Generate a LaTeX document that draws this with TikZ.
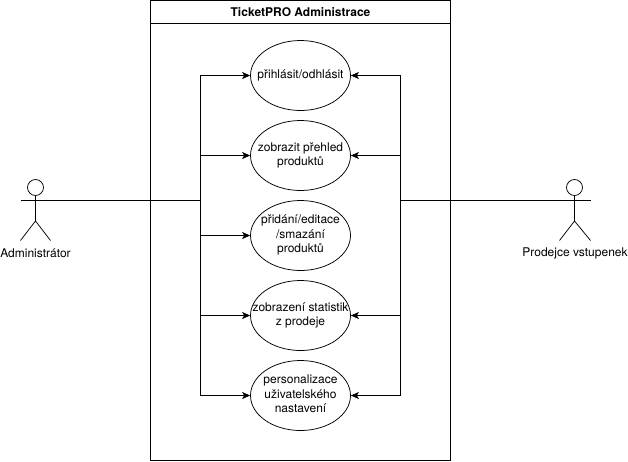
\documentclass[tikz,border=0pt]{standalone}
\usepackage{fontspec}
\setmainfont{TeX Gyre Heros}
\usetikzlibrary{shapes.geometric,arrows.meta}
\newcommand\uclabel[1]{\makebox[0pt]{\begin{tabular}{@{}c@{}}#1\end{tabular}}}
\tikzset{
  every node/.style={font=\fontsize{12}{14.4}\selectfont},
  usecase/.style={draw=black,fill=white,ellipse,minimum width=100pt,minimum height=70pt,inner sep=0pt,line width=0.75pt},
  framebox/.style={draw=black,line width=0.75pt},
  stick/.style={draw=black,line width=0.75pt},
  conn/.style={draw=black,line width=0.75pt,-{Stealth[length=8pt,width=7pt,inset=2pt]}},
  plain/.style={draw=black,line width=0.75pt},
  actorlabel/.style={inner sep=0pt,anchor=center},
  titlelabel/.style={inner sep=0pt,font=\fontsize{12}{14.4}\selectfont\bfseries},
}
\begin{document}
\begin{tikzpicture}[x=1pt,y=-1pt]
\useasboundingbox (0,0) rectangle (628,461);
% system frame
\draw[framebox] (150.5,0.5) rectangle (450.5,460.5);
\draw[framebox] (150.5,23.5) -- (450.5,23.5);
\node[titlelabel] (title) at (300.5,12) {TicketPRO Administrace};
% junction points
\coordinate (lspine) at (200.5,200.5);
\coordinate (rspine) at (400.5,200.5);
% use cases
\node[usecase] (e1) at (300.5,75.5) {\uclabel{přihlásit/odhlásit}};
\node[usecase] (e2) at (300.5,155.5) {\uclabel{zobrazit přehled\\produktů}};
\node[usecase] (e3) at (300.5,235.5) {\uclabel{přidání/editace\\/smazání\\produktů}};
\node[usecase] (e4) at (300.5,315.5) {\uclabel{zobrazení statistik\\z prodeje}};
\node[usecase] (e5) at (300.5,395.5) {\uclabel{personalizace\\uživatelského\\nastavení}};
% left actor
\node[draw=black,line width=0.75pt,circle,minimum size=16pt,inner sep=0pt] (ahead) at (35.5,187.5) {};
\coordinate (ahip) at (35.5,221);
\coordinate (aarml) at (20.5,200.5);
\coordinate (aarmr) at (50.5,200.5);
\coordinate (alegl) at (20.5,240.5);
\coordinate (alegr) at (50.5,240.5);
\draw[stick] (ahead.south) -- (ahip) (ahip) -- (alegl) (ahip) -- (alegr);
\draw[stick] (aarml) -- (aarmr);
\node[actorlabel] (alabel) at (35.5,253.5) {Administrátor};
% right actor
\node[draw=black,line width=0.75pt,circle,minimum size=16pt,inner sep=0pt] (bhead) at (574.5,187.5) {};
\coordinate (bhip) at (574.5,221);
\coordinate (barml) at (559.5,200.5);
\coordinate (barmr) at (590.5,200.5);
\coordinate (blegl) at (559.5,240.5);
\coordinate (blegr) at (590.5,240.5);
\draw[stick] (bhead.south) -- (bhip) (bhip) -- (blegl) (bhip) -- (blegr);
\draw[stick] (barml) -- (barmr);
\node[actorlabel] (blabel) at (575,253.5) {Prodejce vstupenek};
% connectors
\draw[plain] (aarmr) -- (lspine);
\draw[plain] (rspine) -- (barml);
\foreach \n in {e1,e2,e3,e4,e5} \draw[conn] (lspine) |- (\n.west);
\foreach \n in {e1,e2,e4,e5} \draw[conn] (rspine) |- (\n.east);
\end{tikzpicture}
\end{document}
